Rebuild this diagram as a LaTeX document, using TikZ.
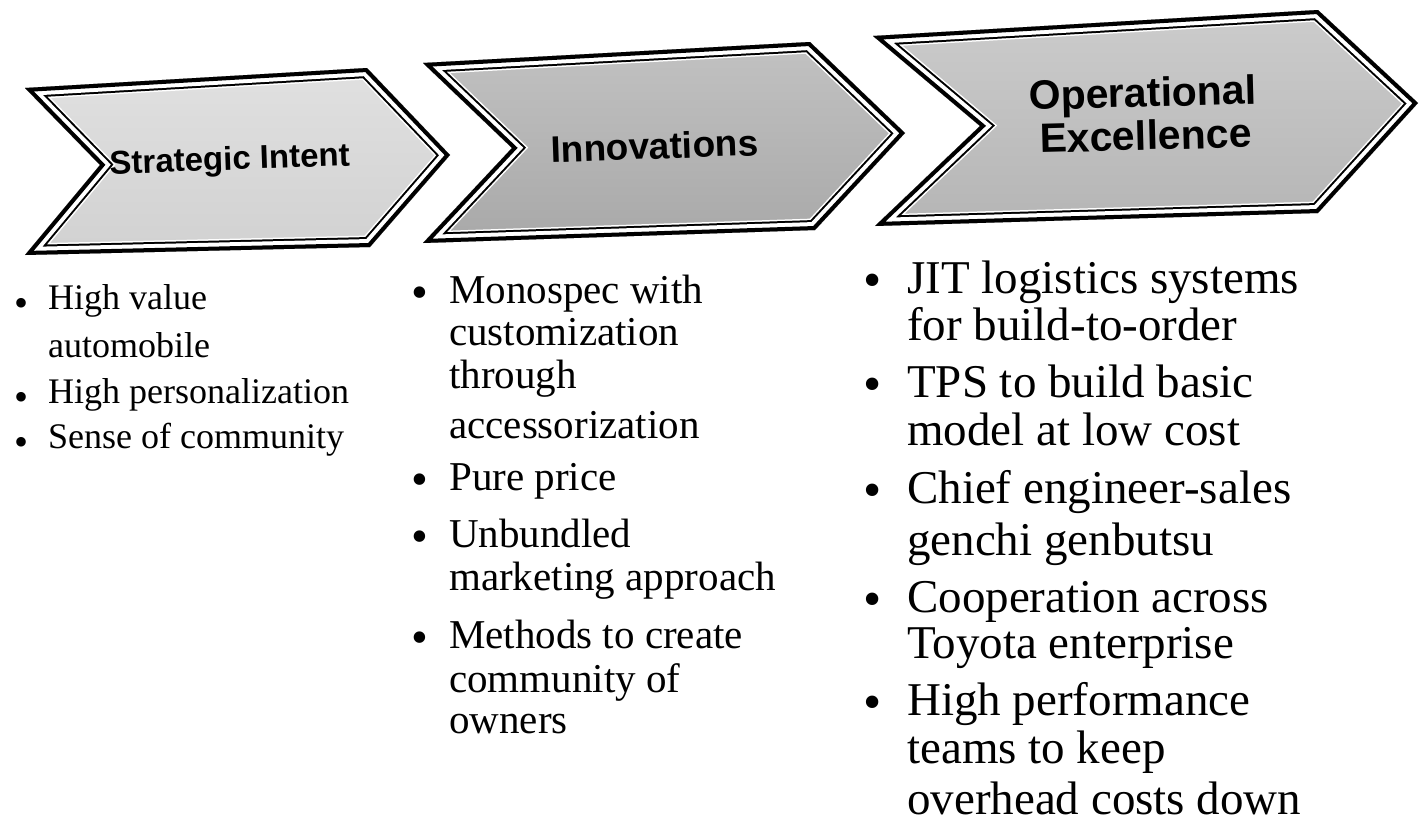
\documentclass[tikz,border=0pt]{standalone}
\usepackage{fontspec}
\setmainfont{Liberation Serif}
\setsansfont{Liberation Sans}
\newcommand\mychevron[3]{%
  \begin{scope}
    \clip #1 -- cycle;
    \shade[top color=#2, bottom color=#3] #1 -- cycle;
    \draw[white, line width=23] #1 -- cycle;
    \draw[black, line width=20] #1 -- cycle;
    \draw[white, line width=16] #1 -- cycle;
    \draw[black, line width=8] #1 -- cycle;
  \end{scope}}
\begin{document}
\begin{tikzpicture}[x=1pt,y=-1pt,line join=miter,
  lbl/.style={anchor=base, inner sep=0, font=\sffamily\bfseries},
  ta/.style={anchor=base west, inner sep=0, font=\fontsize{36}{40}\selectfont},
  tb/.style={anchor=base west, inner sep=0, font=\fontsize{41}{45}\selectfont},
  tc/.style={anchor=base west, inner sep=0, font=\fontsize{47}{50}\selectfont},
  ba/.style={anchor=base, inner sep=0, font=\fontsize{40}{40}\selectfont},
  bb/.style={anchor=base, inner sep=0, font=\fontsize{48}{48}\selectfont},
  bc/.style={anchor=base, inner sep=0, font=\fontsize{52}{52}\selectfont}]
\useasboundingbox[fill=white] (0,0) rectangle (1421,830);

% chevrons
\mychevron{(25,88) -- (367,68) -- (450,155) -- (370,247) -- (25,255) -- (100,165)}{gray!24}{gray!36}
\mychevron{(423,63) -- (810,42) -- (905,133) -- (815,230) -- (423,243) -- (512,148)}{gray!48}{gray!68}
\mychevron{(873,36) -- (1318,10) -- (1418,103) -- (1318,213) -- (875,226) -- (980,126)}{gray!40}{gray!58}

% chevron labels
\node[lbl, rotate=2, font=\sffamily\bfseries\fontsize{33}{36}\selectfont] (si) at (230,170) {Strategic Intent};
\node[lbl, rotate=2, font=\sffamily\bfseries\fontsize{37}{40}\selectfont] (in) at (655,159) {Innovations};
\node[lbl, rotate=1.5, font=\sffamily\bfseries\fontsize{41}{44}\selectfont] (oe1) at (1143,107) {Operational};
\node[lbl, rotate=1.5, font=\sffamily\bfseries\fontsize{41}{44}\selectfont] (oe2) at (1146,150) {Excellence};

% column 1
\node[ba] (a1b) at (22,309) {\raisebox{-7pt}{•}};
\node[ta] (a1) at (48,309) {High value};
\node[ta] (a1c) at (48,357) {automobile};
\node[ba] (a2b) at (22,403) {\raisebox{-7pt}{•}};
\node[ta] (a2) at (48,403) {High personalization};
\node[ba] (a3b) at (22,448) {\raisebox{-7pt}{•}};
\node[ta] (a3) at (48,448) {Sense of community};

% column 2
\node[bb] (b1b) at (420,303) {\raisebox{-5pt}{•}};
\node[tb] (b1) at (449,303) {Monospec with};
\node[tb] (b1c) at (449,345) {customization};
\node[tb] (b1d) at (449,388) {through};
\node[tb] (b1e) at (449,438) {accessorization};
\node[bb] (b2b) at (420,490) {\raisebox{-5pt}{•}};
\node[tb] (b2) at (449,490) {Pure price};
\node[bb] (b3b) at (420,547) {\raisebox{-5pt}{•}};
\node[tb] (b3) at (449,547) {Unbundled};
\node[tb] (b3c) at (449,590) {marketing approach};
\node[bb] (b4b) at (420,648) {\raisebox{-5pt}{•}};
\node[tb] (b4) at (449,648) {Methods to create};
\node[tb] (b4c) at (449,692) {community of};
\node[tb] (b4d) at (449,733) {owners};

% column 3
\node[bc] (c1b) at (873,293) {\raisebox{-4pt}{•}};
\node[tc] (c1) at (907,293) {JIT logistics systems};
\node[tc] (c1c) at (907,340) {for build-to-order};
\node[bc] (c2b) at (873,397) {\raisebox{-4pt}{•}};
\node[tc] (c2) at (907,397) {TPS to build basic};
\node[tc] (c2c) at (907,445) {model at low cost};
\node[bc] (c3b) at (873,503) {\raisebox{-4pt}{•}};
\node[tc] (c3) at (907,503) {Chief engineer-sales};
\node[tc] (c3c) at (907,555) {genchi genbutsu};
\node[bc] (c4b) at (873,612) {\raisebox{-4pt}{•}};
\node[tc] (c4) at (907,612) {Cooperation across};
\node[tc] (c4c) at (907,658) {Toyota enterprise};
\node[bc] (c5b) at (873,715) {\raisebox{-4pt}{•}};
\node[tc] (c5) at (907,715) {High performance};
\node[tc] (c5c) at (907,763) {teams to keep};
\node[tc] (c5d) at (907,814) {overhead costs down};
\end{tikzpicture}
\end{document}
